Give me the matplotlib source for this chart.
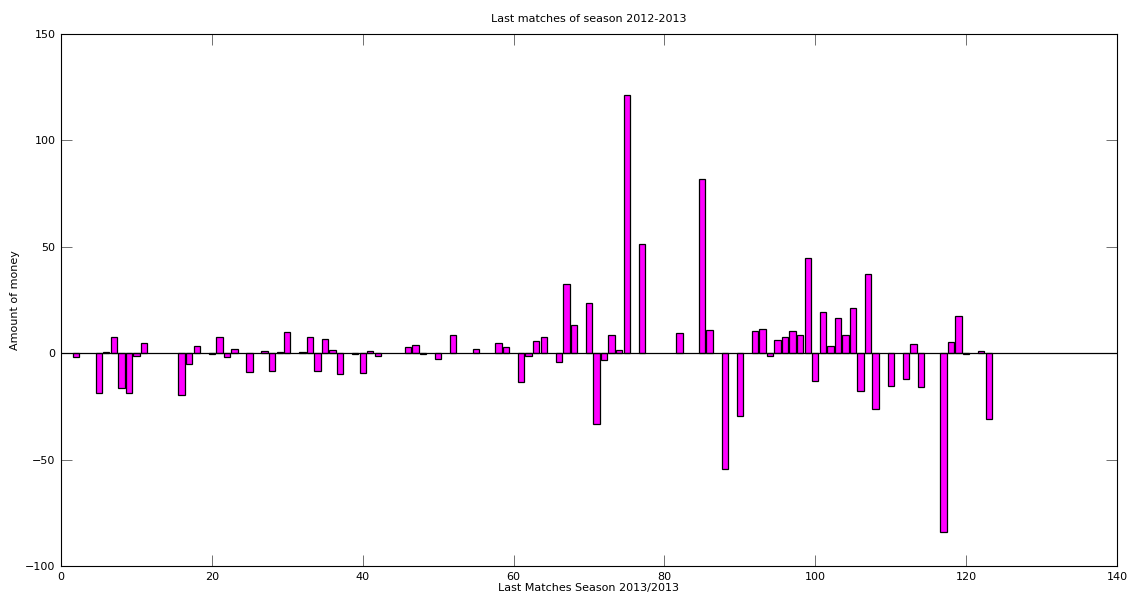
import matplotlib
matplotlib.use("Agg")
import matplotlib.pyplot as plt

# match number and money won/lost in that match (matches with 0 left out)
match_no = [2, 5, 6, 7, 8, 9, 10, 11, 16, 17, 18, 20, 21, 22, 23, 25, 27, 28, 29, 30,
            32, 33, 34, 35, 36, 37, 39, 40, 41, 42, 46, 47, 48, 50, 52, 55, 58, 59,
            61, 62, 63, 64, 66, 67, 68, 70, 71, 72, 73, 74, 75, 77, 82, 85, 86, 88,
            90, 92, 93, 94, 95, 96, 97, 98, 99, 100, 101, 102, 103, 104, 105, 106,
            107, 108, 110, 112, 113, 114, 117, 118, 119, 120, 122, 123]
money = [-1.9, -18.5, 0.6, 7.5, -16.2, -18.5, -1.1, 4.7, -19.5, -5.2, 3.3, -0.5, 7.8,
         -1.6, 1.9, -9.0, 0.9, -8.2, 0.4, 9.8,
         0.4, 7.8, -8.2, 6.6, 1.4, -10.0, -0.5, -9.5, 0.9, -1.4, 2.8, 3.8, -0.5, -2.8,
         8.5, 1.9, 4.7, 2.8,
         -13.6, -1.4, 5.6, 7.5, -4.2, 32.5, 13.2, 23.5, -33.4, -3.0, 8.5, 1.5, 121.2,
         51.3, 9.7, 82.0, 10.7, -54.3,
         -29.5, 10.2, 11.3, -1.3, 6.1, 7.5, 10.2, 8.5, 44.7, -12.9, 19.3, 3.3, 16.5,
         8.5, 21.2, -17.7,
         37.1, -26.2, -15.4, -12.2, 4.4, -16.0, -84.0, 5.4, 17.6, -0.5, 1.0, -30.7]

xticks = [0, 20, 40, 60, 80, 100, 120, 140]
yticks = [-100, -50, 0, 50, 100, 150]

plt.rcParams['font.family'] = ['DejaVu Sans']
plt.rcParams['font.size'] = 8

fig = plt.figure(figsize=(11.3, 6.02), dpi=100)
ax = fig.add_axes([61 / 1130, 36 / 602, 1056 / 1130, 532 / 602])

ax.bar(match_no, money, width=0.85, color='#ff00ff', edgecolor='black',
       linewidth=0.9, zorder=2)
ax.axhline(0, color='black', linewidth=0.9, zorder=3)

ax.set_xlim(0, 140)
ax.set_ylim(-100, 150)
ax.set_xticks(xticks)
ax.set_yticks(yticks)
ax.tick_params(direction='in', length=8, width=0.6, color='0.35', top=True,
               right=True, labelsize=8, pad=4)
for s in ax.spines.values():
    s.set_linewidth(0.8)

ax.set_title('Last matches of season 2012-2013', fontsize=8, pad=9)
ax.set_xlabel('Last Matches Season 2013/2013', fontsize=8, labelpad=1)
ax.set_ylabel('Amount of money', fontsize=8, labelpad=4)

fig.savefig('out.png', dpi=100)
